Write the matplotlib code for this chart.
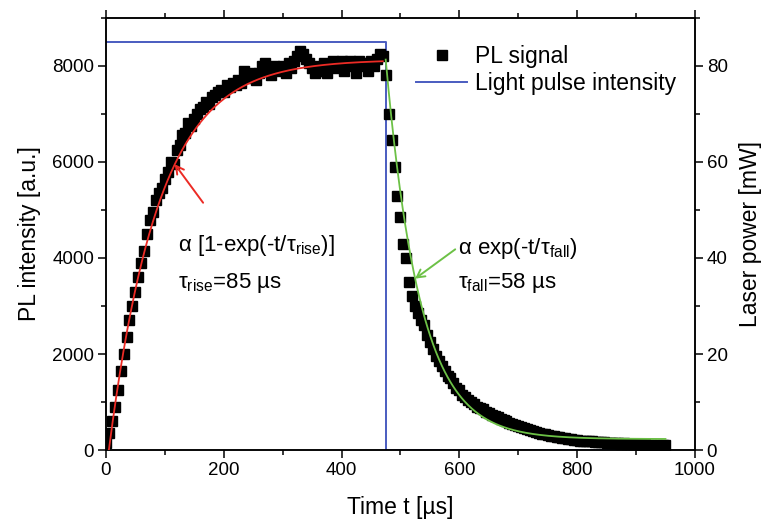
import numpy as np
import matplotlib
matplotlib.use("Agg")
import matplotlib.pyplot as plt
from matplotlib.ticker import MultipleLocator

plt.rcParams["font.family"] = ["Liberation Sans", "DejaVu Sans"]
plt.rcParams["mathtext.fontset"] = "custom"
plt.rcParams["mathtext.rm"] = "Liberation Sans"
plt.rcParams["mathtext.it"] = "Liberation Sans:italic"

# PL signal sampled every 5 us (0 .. 950 us)
pl_time_us = np.arange(0, 955, 5)
pl_signal = [
    # rise, 0 .. 470 us
    150, 350, 600, 900, 1250, 1650, 2000, 2350, 2700, 3000,
    3300, 3600, 3900, 4150, 4500, 4800, 4950, 5200, 5350, 5450,
    5650, 5800, 6000, 5950, 6250, 6350, 6550, 6600, 6800, 6750,
    6900, 7000, 7100, 7150, 7250, 7200, 7350, 7400, 7450, 7500,
    7450, 7600, 7550, 7650, 7600, 7700, 7650, 7900, 7750, 7850,
    7800, 7700, 7850, 8000, 8050, 7900, 7800, 8000, 7950, 7900,
    8000, 7850, 8050, 7950, 8100, 8200, 8300, 8250, 8150, 8050,
    7950, 7850, 8000, 7900, 8050, 7850, 8000, 8100, 7950, 8050,
    8100, 7900, 8050, 8100, 8000, 7850, 8100, 8000, 8050, 7900,
    8100, 8000, 8150, 8250, 8200,
    # fall, 475 .. 950 us
    7800, 7000, 6450, 5900, 5300, 4850, 4300, 4000, 3500, 3200,
    3000, 2850, 2700, 2600, 2400, 2250, 2100, 1950, 1850, 1750,
    1650, 1550, 1500, 1400, 1300, 1250, 1150, 1100, 1050, 1000,
    950, 900, 880, 850, 800, 780, 740, 700, 680, 650,
    620, 600, 570, 550, 520, 500, 480, 460, 430, 410,
    400, 380, 360, 340, 330, 320, 300, 290, 280, 270,
    260, 250, 240, 230, 220, 210, 200, 200, 190, 180,
    180, 170, 170, 160, 160, 150, 150, 140, 150, 140,
    130, 140, 130, 120, 130, 120, 120, 110, 120, 110,
    110, 110, 100, 110, 100, 100,
]

# Light pulse (right axis, mW)
pulse_time_us = [0, 475, 475, 952]
pulse_power_mw = [85, 85, 0, 0]

# Exponential fits
tau_rise = 85.0   # us
tau_fall = 58.0   # us
rise_onset, rise_amp = 5.0, 8130.0
fall_onset, fall_amp, fall_base = 475.0, 7900.0, 230.0

t_rise = np.linspace(rise_onset, 470, 300)
fit_rise = rise_amp * (1 - np.exp(-(t_rise - rise_onset) / tau_rise))
t_fall = np.linspace(fall_onset, 950, 300)
fit_fall = fall_amp * np.exp(-(t_fall - fall_onset) / tau_fall) + fall_base

fig = plt.figure(figsize=(7.62, 5.24), dpi=100)
ax = fig.add_axes([0.139, 0.141, 0.773, 0.825])
ax2 = ax.twinx()

BLUE = "#4a5cc0"
RED = "#ec2b25"
GREEN = "#6cc146"

ax.plot(pl_time_us, pl_signal, ls="none", marker="s", ms=6.5, color="black",
        label="PL signal", zorder=3)
ax.plot(t_rise, fit_rise, color=RED, lw=1.3, zorder=4)
ax.plot(t_fall, fit_fall, color=GREEN, lw=1.3, zorder=4)
ax2.plot(pulse_time_us, pulse_power_mw, color=BLUE, lw=1.4,
         label="Light pulse intensity")

ax.set_xlim(0, 1000)
ax.set_ylim(0, 9000)
ax2.set_ylim(0, 90)
ax.set_zorder(ax2.get_zorder() + 1)
ax.patch.set_visible(False)

ax.xaxis.set_major_locator(MultipleLocator(200))
ax.xaxis.set_minor_locator(MultipleLocator(100))
ax.yaxis.set_major_locator(MultipleLocator(2000))
ax.yaxis.set_minor_locator(MultipleLocator(1000))
ax2.yaxis.set_major_locator(MultipleLocator(20))
ax2.yaxis.set_minor_locator(MultipleLocator(10))

for a in (ax, ax2):
    a.tick_params(which="major", direction="out", length=5.5, width=1.1,
                  labelsize=13.5, pad=3)
    a.tick_params(which="minor", direction="out", length=3.5, width=1.1)
    for s in a.spines.values():
        s.set_linewidth(1.1)
ax.tick_params(axis="x", which="both", top=True)

ax.set_xlabel("Time t [µs]", fontsize=16.5, labelpad=12)
ax.set_ylabel("PL intensity [a.u.]", fontsize=16.5, labelpad=8)
ax2.set_ylabel("Laser power [mW]", fontsize=16.5, labelpad=8)

ax.text(123, 4250, r"α [1-exp(-t/τ$_{\rm rise}$)]", fontsize=16, va="center")
ax.text(123, 3480, r"τ$_{\rm rise}$=85 µs", fontsize=16, va="center")
ax.text(597, 4200, r"α exp(-t/τ$_{\rm fall}$)", fontsize=16, va="center")
ax.text(597, 3480, r"τ$_{\rm fall}$=58 µs", fontsize=16, va="center")

arrow_style = "->,head_length=0.55,head_width=0.3"
ax.annotate("", xy=(117, 5950), xytext=(165, 5150),
            arrowprops=dict(arrowstyle=arrow_style, color=RED, lw=1.4,
                            shrinkA=0, shrinkB=0))
ax.annotate("", xy=(525, 3570), xytext=(593, 4180),
            arrowprops=dict(arrowstyle=arrow_style, color=GREEN, lw=1.4,
                            shrinkA=0, shrinkB=0))

h1, l1 = ax.get_legend_handles_labels()
h2, l2 = ax2.get_legend_handles_labels()
ax.legend(h1 + h2, l1 + l2, loc="upper right", bbox_to_anchor=(0.995, 0.975),
          frameon=False, fontsize=16.5, handlelength=2.2, handletextpad=0.35,
          labelspacing=0.2, borderaxespad=0.3, markerscale=1.0)

fig.savefig("out.png", dpi=100)
